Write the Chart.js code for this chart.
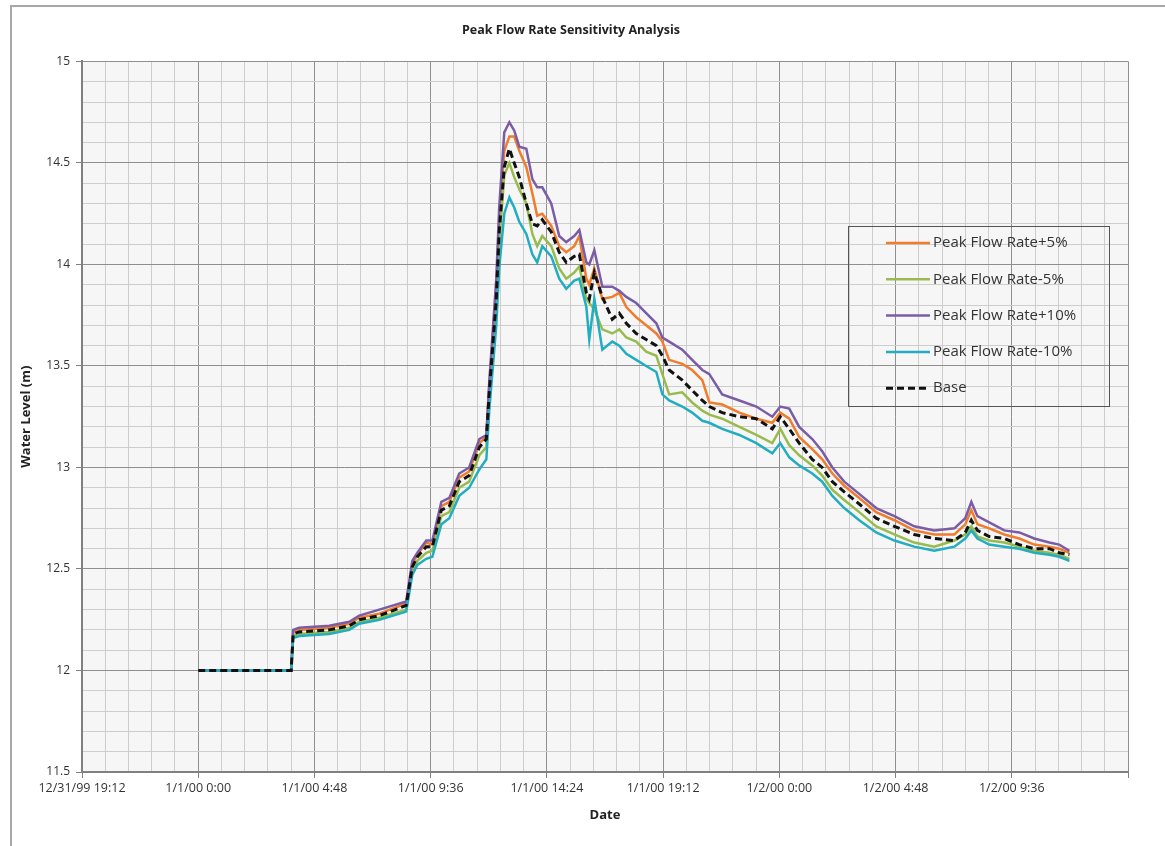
<!DOCTYPE html>
<html lang="en">
<head>
    <meta charset="UTF-8">
    <title>Peak Flow Rate Sensitivity Analysis</title>
    <style>
        body {
            margin: 0;
            background: #fff;
            font-family: "Open Sans", Arial, sans-serif;
        }
        #frame {
            position: absolute;
            left: 10px;
            top: 5px;
            width: 1160px;
            height: 850px;
            border-top: 2px solid #a8a8a8;
            border-left: 2px solid #a8a8a8;
        }
        #chart {
            position: absolute;
            left: 0;
            top: 0;
        }
    </style>
</head>
<body>
    <div id="frame"></div>
    <canvas id="chart" width="1165" height="846"></canvas>

    <script src="https://cdn.jsdelivr.net/npm/chart.js"></script>
    <script>
        // hours after 1/1/00 0:00
        const times = [0, 3.84, 3.92, 4.17, 5.41, 6.24, 6.65, 7.48, 8.59, 8.84, 9.05, 9.42, 9.67, 10.04, 10.37, 10.78,
            11.19, 11.61, 11.90, 12.02, 12.31, 12.43, 12.64, 12.85, 13.05, 13.26, 13.55, 13.80, 14.00, 14.21, 14.58,
            14.91, 15.20, 15.53, 15.74, 16.03, 16.15, 16.36, 16.69, 17.10, 17.39, 17.68, 18.09, 18.50, 18.92, 19.17,
            19.45, 19.99, 20.40, 20.82, 21.11, 21.64, 22.35, 23.05, 23.71, 24.04, 24.41, 24.82, 25.36, 25.77, 26.19,
            26.68, 27.30, 28.00, 28.75, 29.57, 30.40, 31.23, 31.68, 31.93, 32.18, 32.67, 33.29, 33.91, 34.53, 35.15,
            35.56, 35.98];

        const plus5 = [12.00, 12.00, 12.19, 12.20, 12.21, 12.23, 12.26, 12.28, 12.33, 12.52, 12.57, 12.63, 12.62, 12.81, 12.83, 12.95,
            12.98, 13.12, 13.15, 13.40, 13.88, 14.22, 14.56, 14.63, 14.63, 14.56, 14.48, 14.35, 14.24, 14.25, 14.19,
            14.09, 14.06, 14.09, 14.14, 13.93, 13.90, 13.98, 13.83, 13.84, 13.86, 13.79, 13.74, 13.70, 13.66, 13.62,
            13.53, 13.51, 13.48, 13.43, 13.32, 13.31, 13.27, 13.24, 13.22, 13.27, 13.24, 13.15, 13.09, 13.04, 12.97,
            12.91, 12.85, 12.78, 12.74, 12.69, 12.67, 12.67, 12.72, 12.79, 12.72, 12.70, 12.67, 12.65, 12.62, 12.61,
            12.60, 12.58];

        const minus5 = [12.00, 12.00, 12.17, 12.18, 12.19, 12.21, 12.24, 12.26, 12.30, 12.49, 12.54, 12.58, 12.59, 12.76, 12.78, 12.90,
            12.93, 13.06, 13.10, 13.33, 13.78, 14.10, 14.44, 14.50, 14.43, 14.37, 14.30, 14.15, 14.09, 14.14, 14.09,
            13.98, 13.93, 13.96, 13.99, 13.83, 13.81, 13.78, 13.68, 13.66, 13.68, 13.64, 13.62, 13.57, 13.55, 13.46,
            13.36, 13.37, 13.32, 13.28, 13.26, 13.24, 13.20, 13.16, 13.12, 13.19, 13.11, 13.06, 13.01, 12.96, 12.89,
            12.84, 12.78, 12.71, 12.67, 12.63, 12.61, 12.64, 12.67, 12.71, 12.66, 12.64, 12.63, 12.61, 12.59, 12.58,
            12.57, 12.55];

        const plus10 = [12.00, 12.00, 12.20, 12.21, 12.22, 12.24, 12.27, 12.30, 12.34, 12.54, 12.58, 12.64, 12.64, 12.83, 12.85, 12.97,
            13.00, 13.14, 13.16, 13.42, 13.93, 14.28, 14.65, 14.70, 14.66, 14.58, 14.57, 14.42, 14.38, 14.38, 14.30,
            14.14, 14.11, 14.14, 14.17, 14.01, 14.00, 14.07, 13.89, 13.89, 13.87, 13.84, 13.81, 13.76, 13.71, 13.64,
            13.62, 13.58, 13.53, 13.48, 13.46, 13.36, 13.33, 13.30, 13.25, 13.30, 13.29, 13.20, 13.14, 13.08, 13.00,
            12.93, 12.87, 12.80, 12.76, 12.71, 12.69, 12.70, 12.75, 12.83, 12.76, 12.73, 12.69, 12.68, 12.65, 12.63,
            12.62, 12.59];

        const minus10 = [12.00, 12.00, 12.16, 12.17, 12.18, 12.20, 12.23, 12.25, 12.29, 12.47, 12.52, 12.55, 12.56, 12.72, 12.75, 12.86,
            12.90, 12.99, 13.04, 13.28, 13.70, 13.98, 14.25, 14.33, 14.28, 14.21, 14.15, 14.05, 14.01, 14.09, 14.04,
            13.93, 13.88, 13.92, 13.93, 13.79, 13.63, 13.83, 13.58, 13.62, 13.60, 13.56, 13.53, 13.50, 13.47, 13.36,
            13.33, 13.30, 13.27, 13.23, 13.22, 13.19, 13.16, 13.12, 13.07, 13.12, 13.05, 13.01, 12.97, 12.93, 12.86,
            12.80, 12.74, 12.68, 12.64, 12.61, 12.59, 12.61, 12.65, 12.69, 12.65, 12.62, 12.61, 12.60, 12.58, 12.57,
            12.56, 12.54];

        const base = [12.00, 12.00, 12.18, 12.19, 12.20, 12.22, 12.25, 12.27, 12.32, 12.51, 12.56, 12.61, 12.61, 12.79, 12.81, 12.93,
            12.96, 13.10, 13.14, 13.37, 13.83, 14.16, 14.48, 14.57, 14.50, 14.43, 14.30, 14.20, 14.19, 14.22, 14.16,
            14.06, 14.01, 14.04, 14.05, 13.86, 13.83, 13.96, 13.84, 13.73, 13.76, 13.71, 13.66, 13.63, 13.60, 13.55,
            13.48, 13.43, 13.38, 13.33, 13.30, 13.27, 13.25, 13.24, 13.19, 13.25, 13.19, 13.12, 13.04, 13.00, 12.93,
            12.88, 12.82, 12.75, 12.71, 12.67, 12.65, 12.64, 12.68, 12.74, 12.69, 12.66, 12.65, 12.62, 12.60, 12.60,
            12.58, 12.57];

        const seriesNames = ['Peak Flow Rate+5%', 'Peak Flow Rate-5%', 'Peak Flow Rate+10%', 'Peak Flow Rate-10%', 'Base'];
        const seriesColors = ['#f07c2c', '#98bb4e', '#7b5ca6', '#22adc0', '#111111'];

        // major x ticks every 4.8 h, minor every 0.96 h
        const xTickLabels = ['12/31/99 19:12', '1/1/00 0:00', '1/1/00 4:48', '1/1/00 9:36', '1/1/00 14:24',
            '1/1/00 19:12', '1/2/00 0:00', '1/2/00 4:48', '1/2/00 9:36', ''];
        const xMin = -4.8, xMax = 38.4, xMinor = 0.96;
        const yMin = 11.5, yMax = 15, yMinor = 0.1;

        const allSeries = [plus5, minus5, plus10, minus10, base];

        const datasets = allSeries.map((vals, i) => ({
            label: seriesNames[i],
            data: vals.map((v, k) => ({ x: times[k], y: v })),
            borderColor: seriesColors[i],
            backgroundColor: seriesColors[i],
            borderWidth: i === 4 ? 3 : 2.5,
            borderDash: i === 4 ? [7, 4] : [],
            pointRadius: 0,
            tension: 0,
            order: i === 4 ? 0 : 5 - i
        }));

        const plotBg = {
            id: 'plotBg',
            beforeDraw(chart) {
                const { ctx, chartArea: a } = chart;
                ctx.save();
                ctx.fillStyle = '#f6f6f6';
                ctx.fillRect(a.left, a.top, a.right - a.left, a.bottom - a.top);
                ctx.restore();
            }
        };

        // legend box sits inside the plot, on top of the grid
        const boxLegend = {
            id: 'boxLegend',
            afterDraw(chart) {
                const ctx = chart.ctx;
                const x0 = 848, y0 = 226, w = 261, h = 180;
                ctx.save();
                ctx.strokeStyle = '#555';
                ctx.lineWidth = 1;
                ctx.strokeRect(x0 + 0.5, y0 + 0.5, w, h);
                ctx.font = '15px "Open Sans", Arial, sans-serif';
                ctx.textBaseline = 'middle';
                chart.data.datasets.forEach((ds, i) => {
                    const y = y0 + 17 + i * 36.3;
                    ctx.beginPath();
                    ctx.strokeStyle = ds.borderColor;
                    ctx.lineWidth = ds.borderWidth;
                    ctx.setLineDash(ds.borderDash);
                    ctx.moveTo(886, y);
                    ctx.lineTo(930, y);
                    ctx.stroke();
                    ctx.setLineDash([]);
                    ctx.fillStyle = '#333';
                    ctx.fillText(ds.label, 933, y);
                });
                ctx.restore();
            }
        };

        const isMajor = c => c.index % 5 === 0;

        const ctx = document.getElementById('chart').getContext('2d');
        new Chart(ctx, {
            type: 'line',
            data: { datasets: datasets },
            plugins: [plotBg, boxLegend],
            options: {
                responsive: false,
                animation: false,
                devicePixelRatio: 1,
                layout: { padding: { left: 14, right: 37, top: 23, bottom: 18 } },
                plugins: {
                    legend: { display: false },
                    tooltip: { enabled: false },
                    title: {
                        display: true,
                        text: 'Peak Flow Rate Sensitivity Analysis',
                        color: '#222',
                        font: { family: '"Open Sans", Arial, sans-serif', size: 12.5, weight: 'bold' },
                        padding: { top: 0, bottom: 23.4 }
                    }
                },
                scales: {
                    x: {
                        type: 'linear',
                        min: xMin,
                        max: xMax,
                        afterBuildTicks: s => {
                            s.ticks = [];
                            for (let i = 0; i <= Math.round((xMax - xMin) / xMinor); i++) {
                                s.ticks.push({ value: +(xMin + i * xMinor).toFixed(2) });
                            }
                        },
                        afterFit: s => { s.height = 56; },
                        ticks: {
                            autoSkip: false,
                            maxRotation: 0,
                            padding: 3,
                            color: '#333',
                            font: { family: '"Open Sans", Arial, sans-serif', size: 12.5 },
                            callback: (v, i) => (i % 5 === 0 ? xTickLabels[i / 5] : '')
                        },
                        grid: {
                            color: c => (isMajor(c) ? '#8f8f8f' : '#cdcdcd'),
                            tickColor: c => (isMajor(c) ? '#808080' : 'rgba(0,0,0,0)'),
                            tickLength: 6,
                            lineWidth: 1
                        },
                        border: { color: '#808080', width: 2 },
                        title: {
                            display: true,
                            text: 'Date',
                            color: '#222',
                            font: { family: '"Open Sans", Arial, sans-serif', size: 13, weight: 'bold' },
                            padding: { top: 0, bottom: 5 }
                        }
                    },
                    y: {
                        type: 'linear',
                        min: yMin,
                        max: yMax,
                        afterBuildTicks: s => {
                            s.ticks = [];
                            for (let i = 0; i <= Math.round((yMax - yMin) / yMinor); i++) {
                                s.ticks.push({ value: +(yMin + i * yMinor).toFixed(1) });
                            }
                        },
                        afterFit: s => { s.width = 68; },
                        ticks: {
                            autoSkip: false,
                            padding: 6,
                            color: '#333',
                            font: { family: '"Open Sans", Arial, sans-serif', size: 12 },
                            callback: (v, i) => (i % 5 === 0 ? String(v) : '')
                        },
                        grid: {
                            color: c => (isMajor(c) ? '#8f8f8f' : '#cdcdcd'),
                            tickColor: c => (isMajor(c) ? '#808080' : 'rgba(0,0,0,0)'),
                            tickLength: 6,
                            lineWidth: 1
                        },
                        border: { color: '#808080', width: 2 },
                        title: {
                            display: true,
                            text: 'Water Level (m)',
                            color: '#222',
                            font: { family: '"Open Sans", Arial, sans-serif', size: 13, weight: 'bold' },
                            padding: { top: 4, bottom: 0 }
                        }
                    }
                }
            }
        });
    </script>
</body>
</html>
